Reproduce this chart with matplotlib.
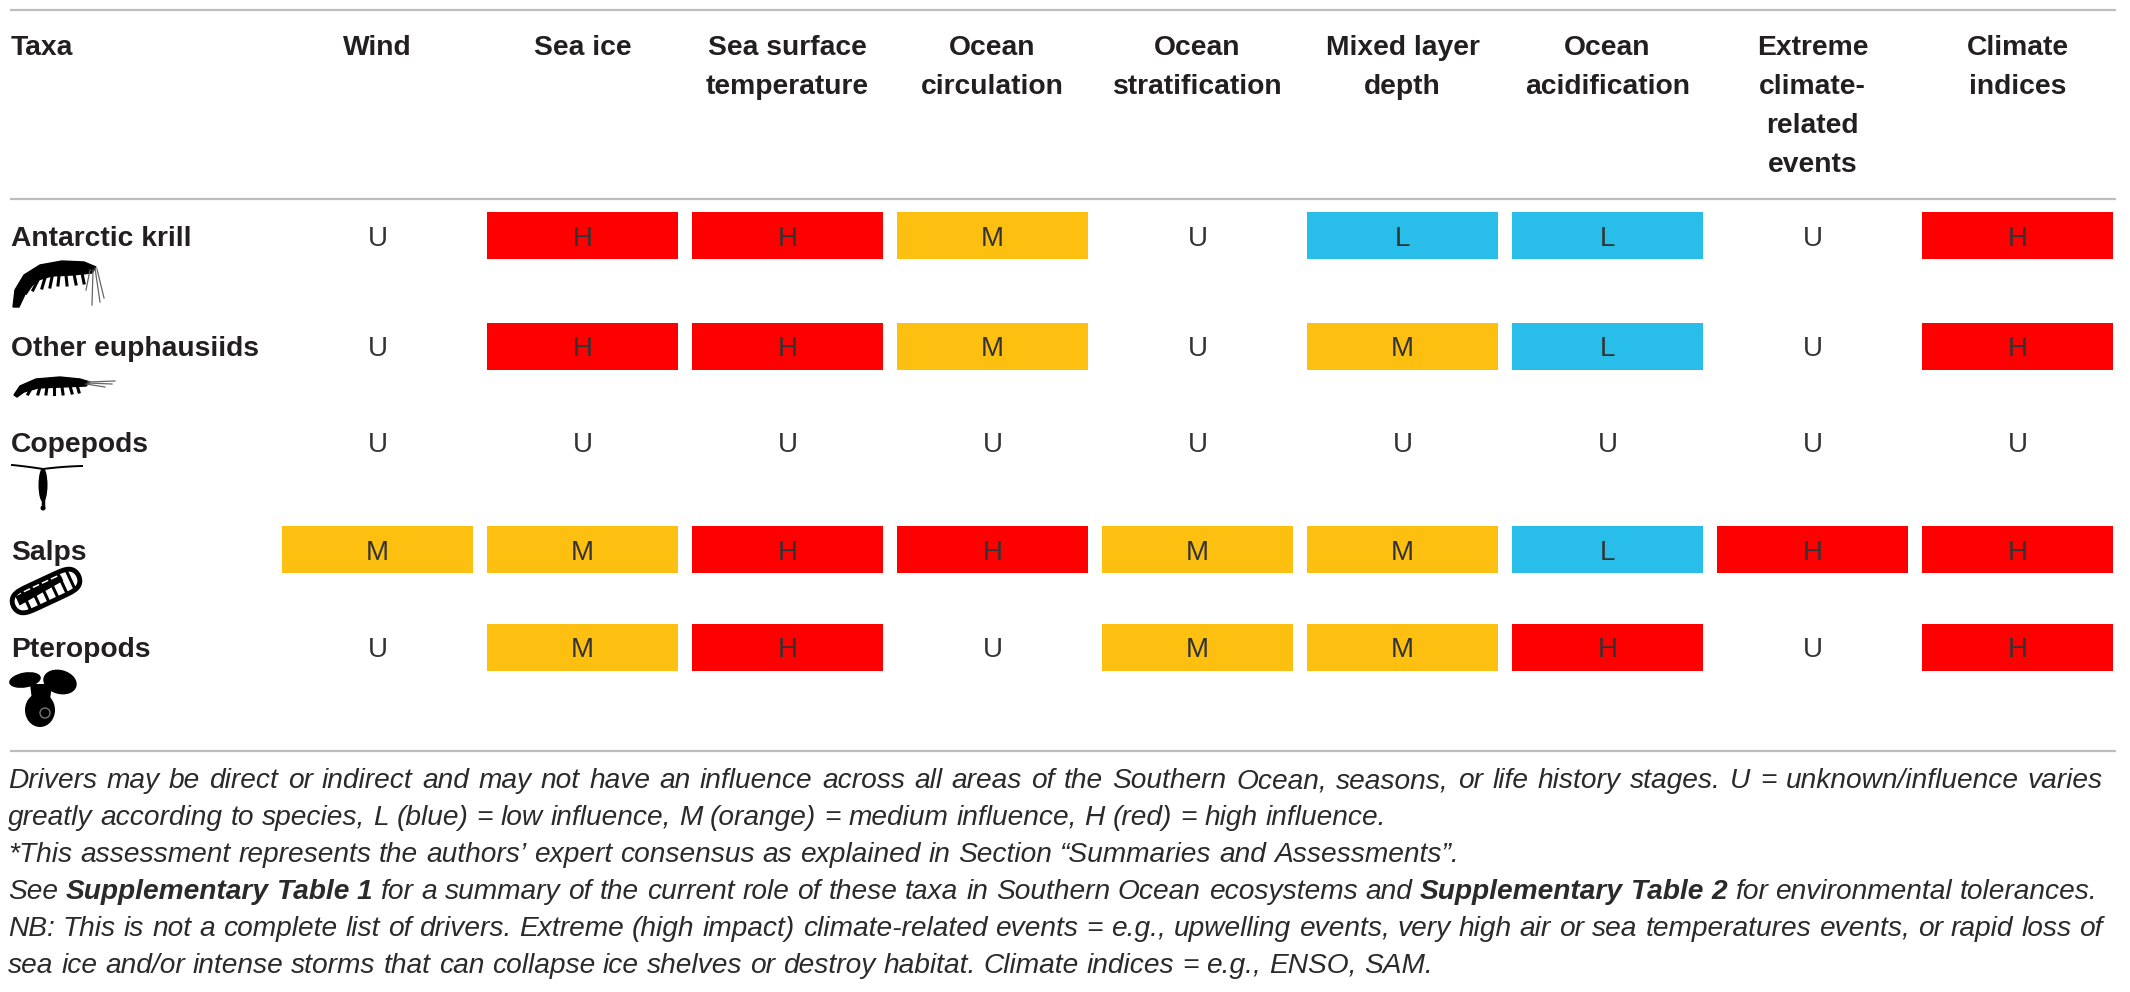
import numpy as np
import matplotlib
matplotlib.use("Agg")
import matplotlib.pyplot as plt
from matplotlib.patches import Rectangle, Ellipse, Polygon, Circle

# table content
taxa = ["Antarctic krill", "Other euphausiids", "Copepods", "Salps", "Pteropods"]
drivers = ["Wind", "Sea ice", "Sea surface\ntemperature", "Ocean\ncirculation",
           "Ocean\nstratification", "Mixed layer\ndepth", "Ocean\nacidification",
           "Extreme\nclimate-\nrelated\nevents", "Climate\nindices"]
ratings = [
    ["U", "H", "H", "M", "U", "L", "L", "U", "H"],
    ["U", "H", "H", "M", "U", "M", "L", "U", "H"],
    ["U", "U", "U", "U", "U", "U", "U", "U", "U"],
    ["M", "M", "H", "H", "M", "M", "L", "H", "H"],
    ["U", "M", "H", "U", "M", "M", "H", "U", "H"],
]
colors = {"H": "#FF0000", "M": "#FEC010", "L": "#29BDEA", "U": None}

notes = [
    [("Drivers may be direct or indirect and may not have an influence across all areas of the "
      "Southern Ocean, seasons, or life history stages. U = unknown/influence varies", False)],
    [("greatly according to species, L (blue) = low influence, M (orange) = medium influence, "
      "H (red) = high influence.", False)],
    [("*This assessment represents the authors\u2019 expert consensus as explained in Section "
      "\u201cSummaries and Assessments\u201d.", False)],
    [("See", False), ("Supplementary Table 1", True),
     ("for a summary of the current role of these taxa in Southern Ocean ecosystems and", False),
     ("Supplementary Table 2", True), ("for environmental tolerances.", False)],
    [("NB: This is not a complete list of drivers. Extreme (high impact) climate-related events = "
      "e.g., upwelling events, very high air or sea temperatures events, or rapid loss of", False)],
    [("sea ice and/or intense storms that can collapse ice shelves or destroy habitat. "
      "Climate indices = e.g., ENSO, SAM.", False)],
]
justified = [True, False, False, False, True, False]

# layout (pixels)
W, H = 2130, 992
col_x = 377.5 + 205 * np.arange(len(drivers))
row_y = [235.5, 346.5, 442, 549.5, 647]
box_w, box_h = 191, 47
ink = "#231F20"
rule = "#BDBDBD"

fig = plt.figure(figsize=(W / 100, H / 100), dpi=100)
ax = fig.add_axes([0, 0, 1, 1])
ax.set_xlim(0, W)
ax.set_ylim(H, 0)
ax.axis("off")

for y in [10, 199, 751]:
    ax.plot([10, 2116], [y, y], color=rule, lw=1.6, solid_capstyle="butt")

head_font = dict(family="Liberation Sans", fontweight="bold", fontsize=20.3, color=ink)
ax.text(11, 55, "Taxa", ha="left", va="baseline", **head_font)
for x, name in zip(col_x, drivers):
    for k, line in enumerate(name.split("\n")):
        ax.text(x, 55 + 39 * k, line, ha="center", va="baseline", **head_font)

cell_font = dict(family="Liberation Sans", fontweight="normal", fontsize=20, color="#333333")
for i, (name, yc) in enumerate(zip(taxa, row_y)):
    ax.text(11, yc + 10, name, ha="left", va="baseline", **head_font)
    for j, x in enumerate(col_x):
        r = ratings[i][j]
        if colors[r]:
            ax.add_patch(Rectangle((x - box_w / 2, yc - box_h / 2), box_w, box_h,
                                   facecolor=colors[r], edgecolor="none"))
        ax.text(x, yc + 10, r, ha="center", va="baseline", **cell_font)


# ---- rough silhouettes of the taxa ----
def krill(x0, y0, s=1.0, flat=False):
    if not flat:
        top = [(13, 47), (15, 30), (24, 15), (40, 5), (62, 1), (84, 2), (96, 7)]
        bot = [(92, 13), (72, 15), (52, 16), (38, 20), (27, 30), (19, 47)]
        legs = [(32, 24, 26, 33), (38, 20, 33, 30), (45, 18, 42, 28), (52, 17, 50, 27),
                (59, 16, 58, 25), (66, 15, 67, 25), (74, 14, 76, 24), (82, 13, 84, 23)]
        ant = [(95, 8, 100, 42), (97, 9, 104, 38), (93, 10, 92, 45), (90, 10, 86, 30)]
    else:
        top = [(14, 20), (20, 11), (36, 4), (60, 2), (80, 4), (90, 7)]
        bot = [(86, 11), (62, 12), (38, 13), (24, 17), (17, 22)]
        legs = [(32, 12, 28, 19), (40, 12, 38, 19), (47, 12, 46, 19), (54, 12, 54, 19),
                (62, 12, 63, 19), (70, 11, 72, 18), (77, 10, 79, 17)]
        ant = [(88, 7, 115, 6), (88, 8, 112, 9), (86, 9, 105, 12)]
    pts = [(x0 + s * a, y0 + s * b) for a, b in top + bot]
    ax.add_patch(Polygon(pts, closed=True, facecolor="black", edgecolor="black", lw=1))
    for a, b, c, d in legs:
        ax.plot([x0 + s * a, x0 + s * c], [y0 + s * b, y0 + s * d], color="black", lw=2.2)
    for a, b, c, d in ant:
        ax.plot([x0 + s * a, x0 + s * c], [y0 + s * b, y0 + s * d], color="#666666", lw=0.9)


def copepod(xc, y0):
    ax.add_patch(Ellipse((xc, y0 + 20), 9, 34, facecolor="black"))
    ax.plot([xc, xc], [y0 + 30, y0 + 42], color="black", lw=2.5)
    ax.add_patch(Circle((xc, y0 + 43), 2.5, facecolor="black"))
    t = np.linspace(0, 1, 20)
    ax.plot(xc - 31 * t, y0 + 4 - 5 * t + 1 * t ** 2, color="black", lw=1.4)
    ax.plot(xc + 39 * t, y0 + 4 - 5 * t + 2 * t ** 2, color="black", lw=1.4)


def salp(xc, yc):
    a = np.deg2rad(25)
    u = np.array([np.cos(a), -np.sin(a)])
    v = np.array([np.sin(a), np.cos(a)])
    c = np.array([xc, yc])
    th = np.linspace(0, 2 * np.pi, 80)
    shape = [c + 36 * np.sign(np.cos(q)) * abs(np.cos(q)) ** 0.3 * u
             + 12 * np.sin(q) * v for q in th]
    ax.add_patch(Polygon(shape, closed=True, facecolor="white", edgecolor="black", lw=3.5))
    ax.add_patch(Polygon([c - 30 * u + 2 * v, c - 30 * u - 8 * v, c + 20 * u - 8 * v,
                          c + 20 * u - 2 * v], facecolor="black"))
    for s in [-22, -12, -2, 8, 18, 27]:
        p1 = c + s * u - 10 * v
        p2 = c + s * u + 10 * v
        ax.plot([p1[0], p2[0]], [p1[1], p2[1]], color="black", lw=2.2)


def pteropod(x0, y0):
    ax.add_patch(Ellipse((x0 + 30, y0 + 40), 30, 34, facecolor="black"))
    ax.add_patch(Polygon([(x0 + 20, y0 + 14), (x0 + 42, y0 + 14), (x0 + 40, y0 + 30),
                          (x0 + 22, y0 + 30)], facecolor="black"))
    ax.add_patch(Ellipse((x0 + 15, y0 + 10), 32, 15, angle=-10, facecolor="black"))
    ax.add_patch(Ellipse((x0 + 50, y0 + 12), 34, 24, angle=15, facecolor="black"))
    ax.add_patch(Circle((x0 + 35, y0 + 43), 5, facecolor="none", edgecolor="#777777", lw=1))


krill(0, 260)
krill(0, 375, flat=True)
copepod(43, 465)
salp(46, 591)
pteropod(10, 670)

# ---- footnote with justified lines ----
fig.canvas.draw()
rend = fig.canvas.get_renderer()


def font_for(bold, size):
    return dict(family="Liberation Sans", fontweight="bold" if bold else "normal",
                style="italic", fontsize=size)


def width(s, bold, size):
    t = ax.text(0, 0, s, **font_for(bold, size))
    w = t.get_window_extent(rend).width
    t.remove()
    return w


def words_of(line):
    out = []
    for seg, bold in line:
        out += [(w, bold) for w in seg.split(" ")]
    return out


def natural(line, size):
    ws = words_of(line)
    sp = width("x x", False, size) - width("xx", False, size)
    return sum(width(w, b, size) for w, b in ws) + sp * (len(ws) - 1)


size0 = 20
left, right = 8, 2103
scale = min((2097 - left) / natural(notes[3], size0),
            (right - left) / natural(notes[0], size0),
            (right - left) / natural(notes[4], size0))
fsize = size0 * scale

for k, (line, just) in enumerate(zip(notes, justified)):
    ws = words_of(line)
    wid = [width(w, b, fsize) for w, b in ws]
    if just:
        gap = (right - left - sum(wid)) / (len(ws) - 1)
    else:
        gap = width("x x", False, fsize) - width("xx", False, fsize)
    x = left
    for (w, b), ww in zip(ws, wid):
        ax.text(x, 788 + 37 * k, w, ha="left", va="baseline", color="#2a2a2a",
                **font_for(b, fsize))
        x += ww + gap

fig.savefig("out.png", dpi=100)
